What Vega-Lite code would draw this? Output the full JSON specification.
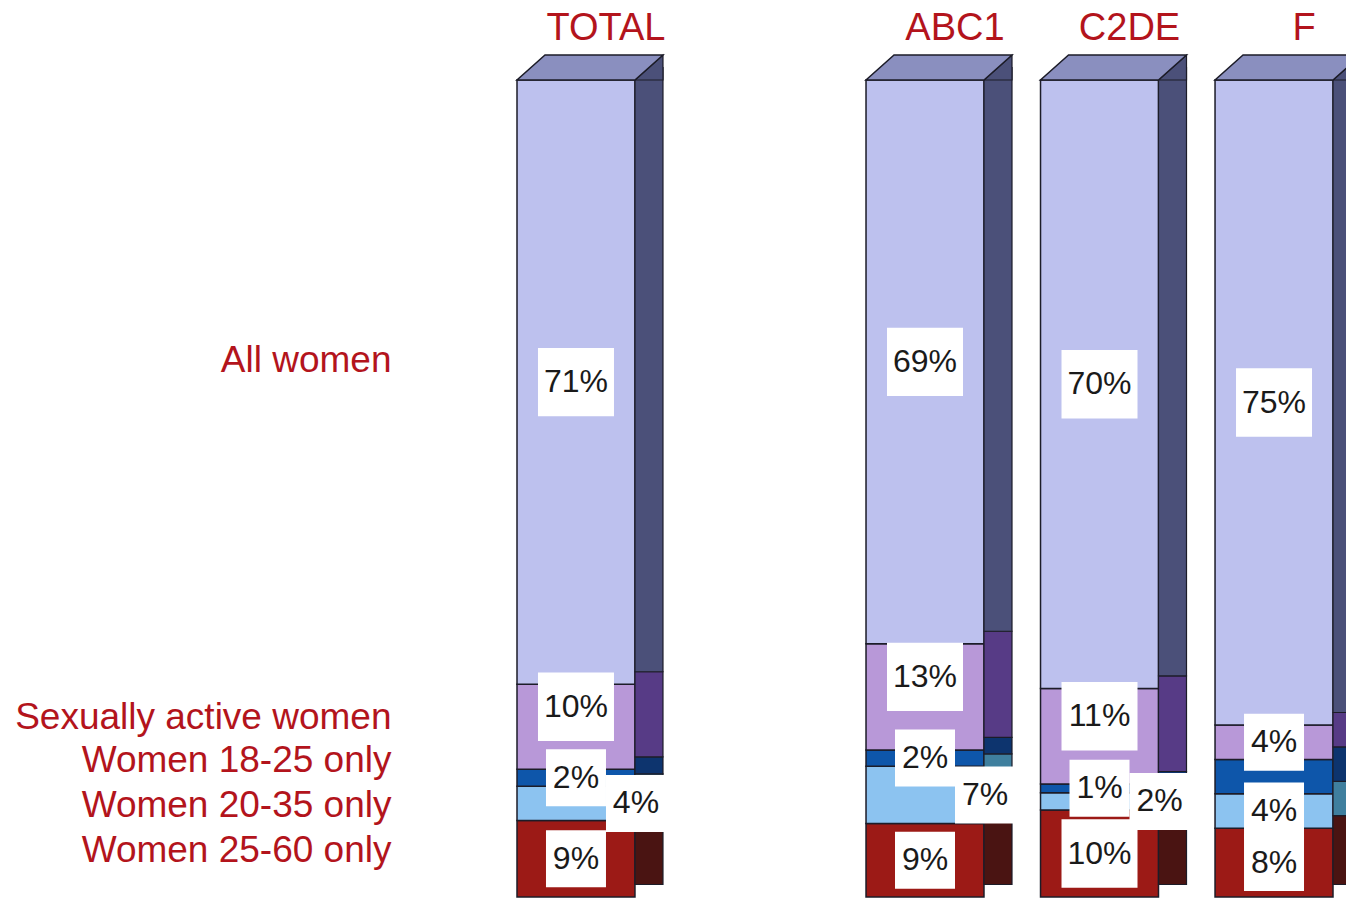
{
  "$schema": "https://vega.github.io/schema/vega-lite/v6.json",
  "width": 816,
  "height": 817,
  "autosize": "none",
  "padding": {"left": 517, "top": 80, "right": 30, "bottom": 2},
  "background": "white",
  "config": {"view": {"stroke": null}},
  "data": {
    "values": [
      {"group": "TOTAL", "category": "Women 25-60 only", "value": 9},
      {"group": "TOTAL", "category": "Women 20-35 only", "value": 4},
      {"group": "TOTAL", "category": "Women 18-25 only", "value": 2},
      {"group": "TOTAL", "category": "Sexually active women", "value": 10},
      {"group": "TOTAL", "category": "All women", "value": 71},
      {"group": "ABC1", "category": "Women 25-60 only", "value": 9},
      {"group": "ABC1", "category": "Women 20-35 only", "value": 7},
      {"group": "ABC1", "category": "Women 18-25 only", "value": 2},
      {"group": "ABC1", "category": "Sexually active women", "value": 13},
      {"group": "ABC1", "category": "All women", "value": 69},
      {"group": "C2DE", "category": "Women 25-60 only", "value": 10},
      {"group": "C2DE", "category": "Women 20-35 only", "value": 2},
      {"group": "C2DE", "category": "Women 18-25 only", "value": 1},
      {"group": "C2DE", "category": "Sexually active women", "value": 11},
      {"group": "C2DE", "category": "All women", "value": 70},
      {"group": "F", "category": "Women 25-60 only", "value": 8},
      {"group": "F", "category": "Women 20-35 only", "value": 4},
      {"group": "F", "category": "Women 18-25 only", "value": 4},
      {"group": "F", "category": "Sexually active women", "value": 4},
      {"group": "F", "category": "All women", "value": 75}
    ]
  },
  "transform": [
    {"calculate": "indexof(['Women 25-60 only','Women 20-35 only','Women 18-25 only','Sexually active women','All women'], datum.category)", "as": "k"},
    {"stack": "value", "groupby": ["group"], "sort": [{"field": "k", "order": "ascending"}], "offset": "normalize", "as": ["y0", "y1"]},
    {"calculate": "(datum.y0 + datum.y1) / 2", "as": "ym"},
    {"calculate": "datum.value + '%'", "as": "label"}
  ],
  "layer": [
    {
      "mark": {"type": "bar", "stroke": "#1c1c28", "strokeWidth": 1.5},
      "encoding": {
        "x": {
          "field": "group", "type": "nominal",
          "scale": {"domain": ["TOTAL", "gap", "ABC1", "C2DE", "F"], "paddingInner": 0.324, "paddingOuter": 0},
          "axis": {
            "orient": "top", "title": null, "domain": false, "ticks": false, "tickSize": 0,
            "labelExpr": "datum.value == 'gap' ? '' : datum.value",
            "labelFont": "Liberation Sans", "labelFontSize": 38, "labelColor": "#b3141c",
            "labelAngle": 0, "labelBaseline": "alphabetic", "labelPadding": 41, "labelOffset": 30, "labelOverlap": false
          }
        },
        "y": {
          "field": "y1", "type": "quantitative",
          "scale": {"domain": [0, 1], "nice": false},
          "axis": {
            "title": null, "domain": false, "ticks": false, "tickSize": 0, "grid": false,
            "values": [0.0575, 0.1126, 0.1665, 0.2203, 0.657],
            "labelExpr": "datum.value > 0.5 ? 'All women' : datum.value > 0.2 ? 'Sexually active women' : datum.value > 0.14 ? 'Women 18-25 only' : datum.value > 0.08 ? 'Women 20-35 only' : 'Women 25-60 only'",
            "labelFont": "Liberation Sans", "labelFontSize": 37, "labelColor": "#b3141c",
            "labelPadding": 126, "labelLimit": 600, "labelOverlap": false, "labelFlush": false, "labelBaseline": "middle"
          }
        },
        "y2": {"field": "y0"},
        "color": {
          "field": "category", "type": "nominal", "legend": null,
          "scale": {
            "domain": ["All women", "Sexually active women", "Women 18-25 only", "Women 20-35 only", "Women 25-60 only"],
            "range": ["#bdc1ee", "#b898d8", "#0e56aa", "#8cc3f0", "#9c1a16"]
          }
        }
      }
    },
    {
      "mark": {"type": "bar", "width": 28, "xOffset": 73, "yOffset": -12.5, "y2Offset": -12.5, "stroke": "#1c1c28", "strokeWidth": 1.2},
      "encoding": {
        "x": {"field": "group", "type": "nominal"},
        "y": {"field": "y1", "type": "quantitative"},
        "y2": {"field": "y0"},
        "color": {
          "field": "category", "type": "nominal", "legend": null,
          "scale": {
            "domain": ["All women", "Sexually active women", "Women 18-25 only", "Women 20-35 only", "Women 25-60 only"],
            "range": ["#4b5079", "#573b86", "#0d346e", "#3f7f9e", "#4a1412"]
          }
        }
      }
    },
    {
      "transform": [{"filter": "datum.category == 'All women'"}],
      "mark": {"type": "point", "filled": true, "opacity": 1, "shape": "M 0.616 0.171 L 1 -0.171 L 1 0.171 Z", "size": 21316, "xOffset": 14, "yOffset": -12.5, "fill": "#4b5079", "stroke": "#1c1c28", "strokeWidth": 1.2},
      "encoding": {
        "x": {"field": "group", "type": "nominal"},
        "y": {"field": "y1", "type": "quantitative"}
      }
    },
    {
      "transform": [{"filter": "datum.category == 'All women'"}],
      "mark": {"type": "point", "filled": true, "opacity": 1, "shape": "M -1 0.171 L 0.616 0.171 L 1 -0.171 L -0.616 -0.171 Z", "size": 21316, "xOffset": 14, "yOffset": -12.5, "fill": "#8a8fbf", "stroke": "#1c1c28", "strokeWidth": 1.5},
      "encoding": {
        "x": {"field": "group", "type": "nominal"},
        "y": {"field": "y1", "type": "quantitative"}
      }
    },
    {
      "transform": [
        {"filter": "datum.value >= 10 && datum.category != 'Sexually active women'"}
      ],
      "mark": {"type": "point", "filled": true, "opacity": 1, "fill": "white", "strokeWidth": 0, "shape": "M -1 -0.9 L 1 -0.9 L 1 0.9 L -1 0.9 Z", "size": 5776},
      "encoding": {
        "x": {"field": "group", "type": "nominal"},
        "y": {"field": "ym", "type": "quantitative"}
      }
    },
    {
      "transform": [
        {"filter": "datum.value >= 10 && datum.category == 'Sexually active women'"}
      ],
      "mark": {"type": "point", "filled": true, "opacity": 1, "fill": "white", "strokeWidth": 0, "shape": "M -1 -0.9 L 1 -0.9 L 1 0.9 L -1 0.9 Z", "size": 5776, "yOffset": -20},
      "encoding": {
        "x": {"field": "group", "type": "nominal"},
        "y": {"field": "ym", "type": "quantitative"}
      }
    },
    {
      "transform": [
        {"filter": "!(datum.group == 'F' && datum.category == 'Women 18-25 only')"},
        {"filter": "!(datum.category == 'Women 20-35 only' && datum.group != 'F')"},
        {"filter": "datum.value < 10"}
      ],
      "mark": {"type": "point", "filled": true, "opacity": 1, "fill": "white", "strokeWidth": 0, "shape": "M -1 -0.95 L 1 -0.95 L 1 0.95 L -1 0.95 Z", "size": 3600},
      "encoding": {
        "x": {"field": "group", "type": "nominal"},
        "y": {"field": "ym", "type": "quantitative"}
      }
    },
    {
      "transform": [
        {"filter": "datum.category == 'Women 20-35 only' && datum.group != 'F'"}
      ],
      "mark": {"type": "point", "filled": true, "opacity": 1, "fill": "white", "strokeWidth": 0, "shape": "M -1 -0.95 L 1 -0.95 L 1 0.95 L -1 0.95 Z", "size": 3600, "xOffset": 60},
      "encoding": {
        "x": {"field": "group", "type": "nominal"},
        "y": {"field": "ym", "type": "quantitative"}
      }
    },
    {
      "transform": [
        {"filter": "!(datum.group == 'F' && datum.category == 'Women 18-25 only')"},
        {"filter": "!(datum.category == 'Women 20-35 only' && datum.group != 'F')"},
        {"filter": "!(datum.category == 'Sexually active women' && datum.value >= 10)"}
      ],
      "mark": {"type": "text", "font": "Liberation Sans", "fontSize": 32, "fill": "#1a1a1a", "baseline": "middle", "align": "center"},
      "encoding": {
        "x": {"field": "group", "type": "nominal"},
        "y": {"field": "ym", "type": "quantitative"},
        "text": {"field": "label", "type": "nominal"}
      }
    },
    {
      "transform": [
        {"filter": "datum.category == 'Sexually active women' && datum.value >= 10"}
      ],
      "mark": {"type": "text", "font": "Liberation Sans", "fontSize": 32, "fill": "#1a1a1a", "baseline": "middle", "align": "center", "yOffset": -20},
      "encoding": {
        "x": {"field": "group", "type": "nominal"},
        "y": {"field": "ym", "type": "quantitative"},
        "text": {"field": "label", "type": "nominal"}
      }
    },
    {
      "transform": [
        {"filter": "datum.category == 'Women 20-35 only' && datum.group != 'F'"}
      ],
      "mark": {"type": "text", "font": "Liberation Sans", "fontSize": 32, "fill": "#1a1a1a", "baseline": "middle", "align": "center", "xOffset": 60},
      "encoding": {
        "x": {"field": "group", "type": "nominal"},
        "y": {"field": "ym", "type": "quantitative"},
        "text": {"field": "label", "type": "nominal"}
      }
    }
  ],
  "resolve": {"scale": {"color": "independent"}}
}
